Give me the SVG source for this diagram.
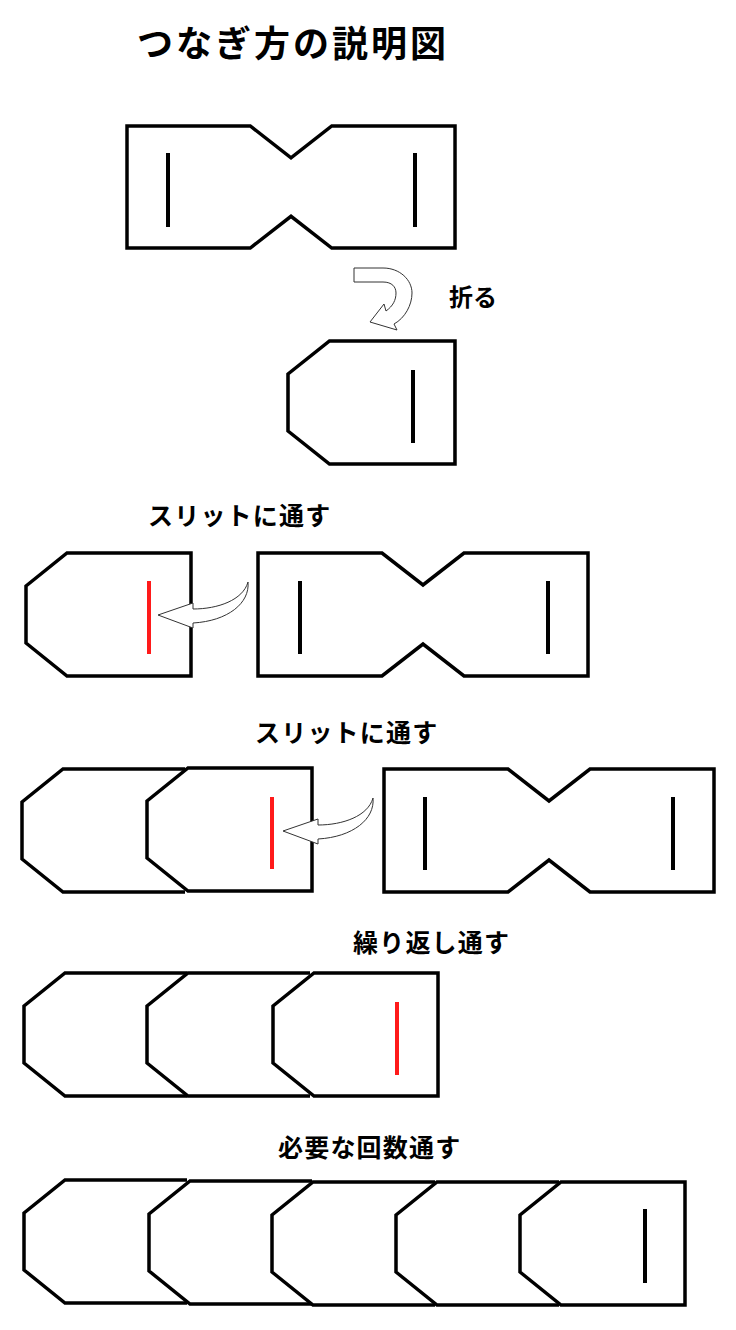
<svg xmlns="http://www.w3.org/2000/svg" xmlns:xlink="http://www.w3.org/1999/xlink" width="736" height="1330" viewBox="0 0 736 1330">
<style>
.o{fill:#fff;stroke:#000;stroke-width:3.5;stroke-linejoin:miter}
.t{fill:none;stroke:#000;stroke-width:3.5;stroke-linejoin:miter}
.s{stroke:#000;stroke-width:4}
.r{stroke:#ff1a1a;stroke-width:4}
.a{fill:#fff;stroke:#333;stroke-width:1}
.lb{font-family:"Noto Sans CJK JP","Noto Sans CJK SC",sans-serif;font-weight:700;fill:#000}
</style>
<defs>
<path id="bow" d="M0,0 H124 L165,32 L206,0 H330 V123 H206 L165,91 L124,123 H0 Z"/>
<path id="tab" d="M163,0 H41 L0,33 V90 L41,123 H163"/>
<path id="tabEnd" d="M41,0 H165 V123 H41 L0,90 V33 Z"/>
<path id="arr" d="M0,0 L35,-12 L35,-6 C60,-6 85,-15 90,-33 C92,-12 70,6 35,8 L35,13 Z"/>
</defs>
<rect width="736" height="1330" fill="#fff"/>
<text class="lb" x="137" y="57" font-size="36" letter-spacing="3">つなぎ方の説明図</text>

<g id="strip-top">
<use href="#bow" class="o" transform="translate(127,126) scale(0.994,0.992)"/>
<line class="s" x1="168" y1="153" x2="168" y2="227"/>
<line class="s" x1="415" y1="153" x2="415" y2="227"/>
</g>

<g id="label-fold"><text class="lb" x="449" y="306" font-size="24">折る</text></g>

<g id="folded">
<use href="#tabEnd" class="o" transform="translate(288,341) scale(1.012,1)"/>
<line class="s" x1="413" y1="370" x2="413" y2="443"/>
</g>

<g id="label-row2"><text class="lb" x="148" y="525" font-size="25" letter-spacing="1.2">スリットに通す</text></g>
<g id="row2-folded">
<use href="#tabEnd" class="o" transform="translate(26,553)"/>
<line class="r" x1="149" y1="581" x2="149" y2="654"/>
</g>
<g id="row2-strip">
<use href="#bow" class="o" transform="translate(258,553)"/>
<line class="s" x1="300" y1="581" x2="300" y2="654"/>
<line class="s" x1="548" y1="581" x2="548" y2="654"/>
</g>

<g id="label-row3"><text class="lb" x="255" y="742" font-size="25" letter-spacing="1.2">スリットに通す</text></g>
<g id="row3-piece1"><use href="#tab" class="t" transform="translate(22,769)"/></g>
<g id="row3-piece2">
<use href="#tabEnd" class="o" transform="translate(147,768)"/>
<line class="r" x1="272" y1="797" x2="272" y2="869"/>
</g>
<g id="row3-strip">
<use href="#bow" class="o" transform="translate(384,769)"/>
<line class="s" x1="425" y1="797" x2="425" y2="870"/>
<line class="s" x1="673" y1="797" x2="673" y2="870"/>
</g>

<g id="label-row4"><text class="lb" x="353" y="952" font-size="25" letter-spacing="1.2">繰り返し通す</text></g>
<g id="row4-piece1"><use href="#tab" class="t" transform="translate(24,973)"/></g>
<g id="row4-piece2"><use href="#tab" class="t" transform="translate(147,973)"/></g>
<g id="row4-piece3">
<use href="#tabEnd" class="o" transform="translate(273,973)"/>
<line class="r" x1="397" y1="1002" x2="397" y2="1075"/>
</g>

<g id="label-row5"><text class="lb" x="278" y="1157" font-size="25" letter-spacing="1.2">必要な回数通す</text></g>
<g id="row5-piece1"><use href="#tab" class="t" transform="translate(24,1180)"/></g>
<g id="row5-piece2"><use href="#tab" class="t" transform="translate(149,1181)"/></g>
<g id="row5-piece3"><use href="#tab" class="t" transform="translate(272,1182)"/></g>
<g id="row5-piece4"><use href="#tab" class="t" transform="translate(396,1182)"/></g>
<g id="row5-piece5">
<use href="#tabEnd" class="o" transform="translate(520,1182)"/>
<line class="s" x1="645" y1="1209" x2="645" y2="1283"/>
</g>

<g id="connectors">
<path class="a" d="M354,268 L383,268 C400,268 412,280 412,293 C412,305 405,318 394,324 L397,330 L370,322 L384,304 L386,311 C393,306 396,300 396,293 C396,287 392,282 383,282 L354,282 Z"/>
<use href="#arr" class="a" transform="translate(158,615)"/>
<use href="#arr" class="a" transform="translate(283,831)"/>
</g>
</svg>
